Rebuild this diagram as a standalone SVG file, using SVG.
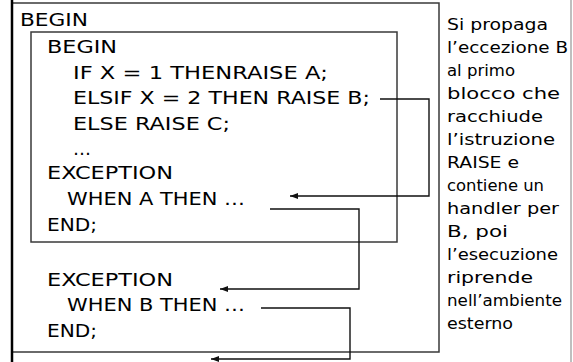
<svg xmlns="http://www.w3.org/2000/svg" width="573" height="362" viewBox="0 0 573 362">
<style>
.code{font-family:"DejaVu Sans","Liberation Sans",sans-serif;font-size:18px;fill:#000}
.note{font-family:"DejaVu Sans","Liberation Sans",sans-serif;font-size:16px;fill:#000}
.box{fill:none;stroke:#3a3a3a;stroke-width:1.5}
.conn{fill:none;stroke:#111;stroke-width:1.4}
</style>
<defs>
<marker id="ah" viewBox="0 0 8 6" refX="8" refY="3" markerWidth="8" markerHeight="6" markerUnits="userSpaceOnUse" orient="auto">
<path d="M0,0 L8,3 L0,6 z" fill="#111"/>
</marker>
</defs>
<rect width="573" height="362" fill="#fff"/>
<line x1="571" y1="0" x2="571" y2="362" stroke="#aaa" stroke-width="1.5"/>
<g id="outer-block">
<path class="box" d="M12,3 H439 V352 H12"/>
<line x1="12" y1="0" x2="12" y2="362" stroke="#000" stroke-width="2.5"/>
<text class="code" x="20" y="26" textLength="68" lengthAdjust="spacingAndGlyphs">BEGIN</text>
<text class="code" x="47" y="286" textLength="126" lengthAdjust="spacingAndGlyphs">EXCEPTION</text>
<text class="code" x="67" y="311" textLength="178" lengthAdjust="spacingAndGlyphs">WHEN B THEN …</text>
<text class="code" x="47" y="337" textLength="50" lengthAdjust="spacingAndGlyphs">END;</text>
</g>
<g id="inner-block">
<rect class="box" x="31" y="32" width="366" height="210"/>
<text class="code" x="47" y="53" textLength="70" lengthAdjust="spacingAndGlyphs">BEGIN</text>
<text class="code" x="73" y="79" textLength="255" lengthAdjust="spacingAndGlyphs">IF X = 1 THENRAISE A;</text>
<text class="code" x="73" y="104" textLength="297" lengthAdjust="spacingAndGlyphs">ELSIF X = 2 THEN RAISE B;</text>
<text class="code" x="73" y="130" textLength="157" lengthAdjust="spacingAndGlyphs">ELSE RAISE C;</text>
<text class="code" x="73" y="155">…</text>
<text class="code" x="47" y="179" textLength="126" lengthAdjust="spacingAndGlyphs">EXCEPTION</text>
<text class="code" x="67" y="205" textLength="178" lengthAdjust="spacingAndGlyphs">WHEN A THEN …</text>
<text class="code" x="47" y="231" textLength="50" lengthAdjust="spacingAndGlyphs">END;</text>
</g>
<g id="note">
<text class="note" x="447" y="30" textLength="101" lengthAdjust="spacingAndGlyphs">Si propaga</text>
<text class="note" x="447" y="53" textLength="121" lengthAdjust="spacingAndGlyphs">l’eccezione B</text>
<text class="note" x="447" y="76" textLength="68" lengthAdjust="spacingAndGlyphs">al primo</text>
<text class="note" x="447" y="99" textLength="113" lengthAdjust="spacingAndGlyphs">blocco che</text>
<text class="note" x="447" y="122" textLength="96" lengthAdjust="spacingAndGlyphs">racchiude</text>
<text class="note" x="447" y="145" textLength="108" lengthAdjust="spacingAndGlyphs">l’istruzione</text>
<text class="note" x="447" y="168" textLength="72" lengthAdjust="spacingAndGlyphs">RAISE e</text>
<text class="note" x="447" y="191" textLength="97" lengthAdjust="spacingAndGlyphs">contiene un</text>
<text class="note" x="447" y="214" textLength="112" lengthAdjust="spacingAndGlyphs">handler per</text>
<text class="note" x="447" y="237" textLength="61" lengthAdjust="spacingAndGlyphs">B, poi</text>
<text class="note" x="447" y="260" textLength="111" lengthAdjust="spacingAndGlyphs">l’esecuzione</text>
<text class="note" x="447" y="283" textLength="86" lengthAdjust="spacingAndGlyphs">riprende</text>
<text class="note" x="447" y="306" textLength="115" lengthAdjust="spacingAndGlyphs">nell’ambiente</text>
<text class="note" x="447" y="329" textLength="66" lengthAdjust="spacingAndGlyphs">esterno</text>
</g>
<g id="connectors">
<path class="conn" d="M380,99 H429 V196 H290" marker-end="url(#ah)"/>
<path class="conn" d="M270,209 H359 V289 H220" marker-end="url(#ah)"/>
<path class="conn" d="M261,308 H350 V359 H211" marker-end="url(#ah)"/>
</g>
</svg>
